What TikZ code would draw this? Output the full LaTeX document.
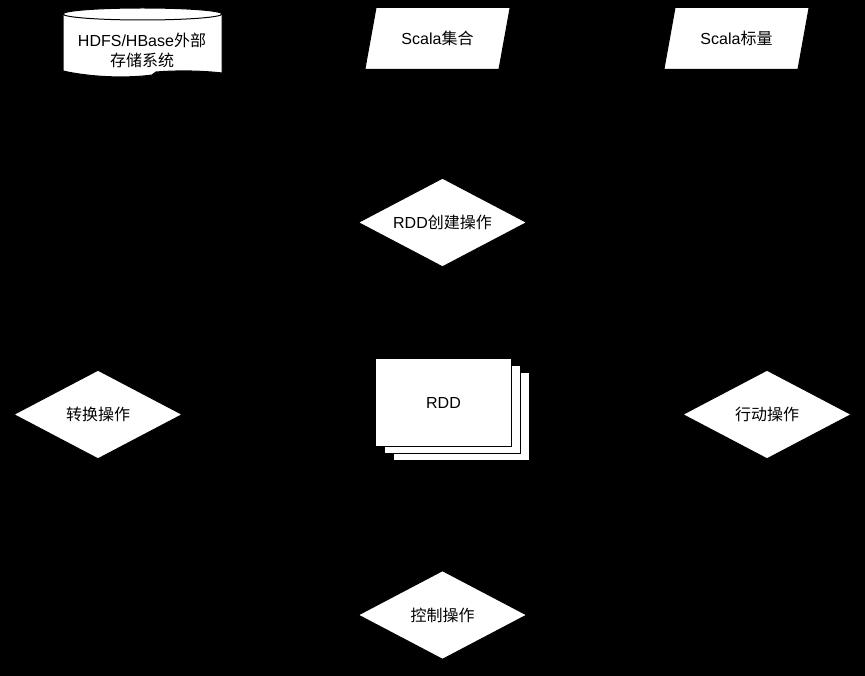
\documentclass[tikz,border=0pt]{standalone}
\usepackage{fontspec}
\setmainfont{Liberation Sans}
\newfontfamily\cjk{Noto Sans CJK SC}
\usetikzlibrary{shapes.geometric,shadows,arrows.meta}
\pgfdeclarelayer{bg}
\pgfsetlayers{bg,main}
\begin{document}
\begin{tikzpicture}[x=1pt,y=-1pt,
  every node/.style={font=\fontsize{16}{20}\selectfont},
  shapebox/.style={fill=white,draw=black,line width=1pt},
  decision/.style={shapebox,diamond,aspect=1.9,inner sep=0pt,minimum width=169pt,minimum height=89pt},
  iobox/.style={shapebox,trapezium,trapezium left angle=66,trapezium right angle=114,trapezium stretches=true,minimum width=146pt,minimum height=62pt,inner sep=0pt},
  rddbox/.style={shapebox,minimum width=136pt,minimum height=88pt,inner sep=0pt,
     double copy shadow={shadow xshift=9pt,shadow yshift=-7pt,fill=white,draw=black,line width=1pt}},
  link/.style={draw=black,line width=1pt,-{Stealth[length=8pt]}}]
\begin{pgfonlayer}{bg}
\fill[black] (0,0) rectangle (865,676);
\end{pgfonlayer}
\useasboundingbox (0,0) rectangle (865,676);
% storage cylinder
\filldraw[fill=white,draw=black,line width=1pt]
  (63,14) -- (63,71) .. controls (95,78) and (130,78) .. (152,75)
  -- (156,72) .. controls (180,70) and (205,71) .. (222,73) -- (222,14)
  arc[start angle=0,end angle=180,x radius=79.5pt,y radius=6pt] -- cycle;
\draw[black,line width=1pt] (63,14) arc[start angle=180,end angle=360,x radius=79.5pt,y radius=6pt];
\node[align=center,inner sep=0pt] (store) at (142,50) {HDFS/HBase{\cjk 外部}\\{\cjk 存储系统}};
\coordinate (storeb) at (142,76);
\node[iobox] (coll) at (437.5,38.5) {Scala{\cjk 集合}};
\node[iobox] (scal) at (736.5,38.5) {Scala{\cjk 标量}};
\node[decision] (create) at (442.5,222.5) {RDD{\cjk 创建操作}};
\node[rddbox] (rdd) at (443.5,402.5) {RDD};
\node[decision] (trans) at (98,414.5) {\cjk 转换操作};
\node[decision] (act) at (767,414.5) {\cjk 行动操作};
\node[decision] (ctrl) at (442.5,615) {\cjk 控制操作};
% connectors (black, as in the reference), kept behind the shapes
\begin{pgfonlayer}{bg}
\draw[link] (storeb) -- (create);
\draw[link] (coll) -- (create);
\draw[link] (create) -- (rdd);
\draw[link] (rdd) -- (trans);
\draw[link] (rdd) -- (act);
\draw[link] (act) -- (scal);
\draw[link] (rdd) -- (ctrl);
\end{pgfonlayer}
\end{tikzpicture}
\end{document}
